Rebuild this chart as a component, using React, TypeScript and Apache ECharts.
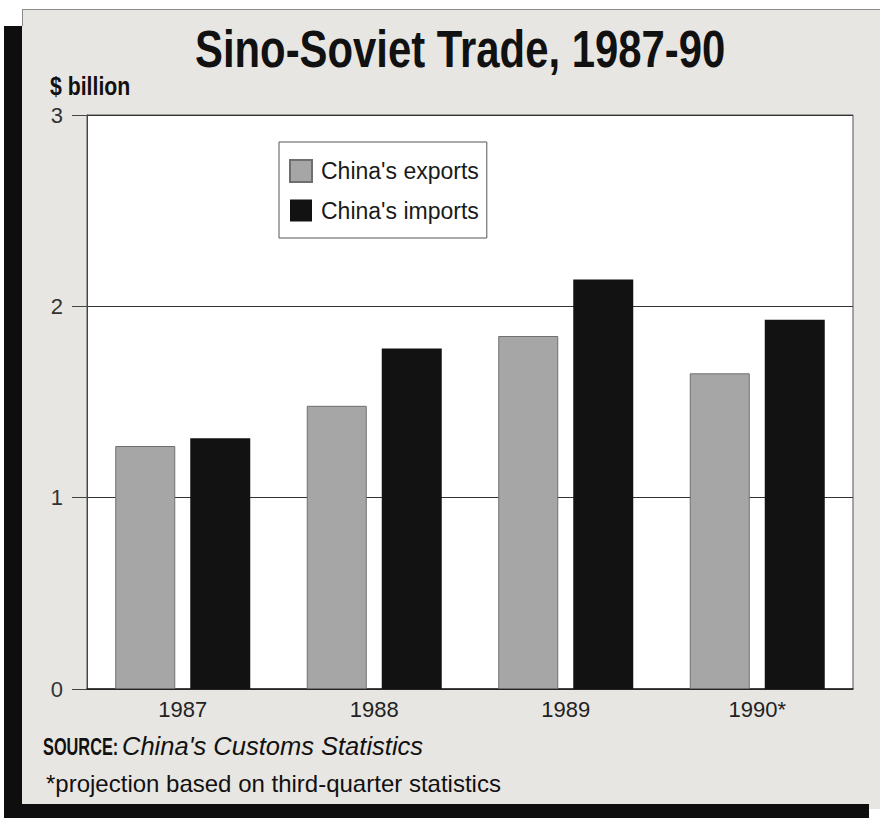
import React, { useEffect, useRef } from "react";
import * as echarts from "echarts";

const years = ["1987", "1988", "1989", "1990*"];
const exportsVals = [1.27, 1.48, 1.845, 1.65];
const importsVals = [1.31, 1.78, 2.14, 1.93];
const yTicks = [0, 1, 2, 3];

const SANS = "Liberation Sans, Arial, sans-serif";

export default function App() {
  const ref = useRef<HTMLDivElement>(null);
  useEffect(() => {
    if (!ref.current) return;
    const chart = echarts.init(ref.current, null, { renderer: "svg" });
    chart.setOption({
      animation: false,
      backgroundColor: "#e8e6e2",
      legend: {
        orient: "vertical",
        left: 279,
        top: 142,
        padding: [17, 8, 16, 10],
        itemWidth: 22,
        itemHeight: 22,
        itemGap: 16,
        icon: "rect",
        backgroundColor: "#ffffff",
        borderColor: "#555",
        borderWidth: 1,
        borderRadius: 0,
        data: ["China's exports", "China's imports"],
        textStyle: { fontFamily: SANS, fontSize: 23, color: "#1a1a1a", padding: [0, 0, 0, 4] },
      },
      grid: {
        left: 87,
        top: 115,
        right: 27,
        bottom: 129,
        show: true,
        backgroundColor: "#ffffff",
        borderColor: "#555",
        borderWidth: 1,
      },
      xAxis: {
        type: "category",
        data: years,
        axisLine: { lineStyle: { color: "#222", width: 1.5 } },
        axisTick: { show: false },
        axisLabel: { fontFamily: SANS, fontSize: 22, color: "#222", margin: 9 },
      },
      yAxis: {
        type: "value",
        min: yTicks[0],
        max: yTicks[yTicks.length - 1],
        interval: 1,
        axisLine: { show: true, lineStyle: { color: "#444", width: 1 } },
        axisTick: { show: true, length: 15, lineStyle: { color: "#444" } },
        splitLine: { lineStyle: { color: "#333", width: 1 } },
        axisLabel: { fontFamily: SANS, fontSize: 22, color: "#333", margin: 24 },
      },
      series: [
        {
          name: "China's exports",
          type: "bar",
          data: exportsVals,
          barWidth: 60,
          barGap: "25%",
          itemStyle: { color: "#a6a6a6", borderColor: "#6f6f6f", borderWidth: 1 },
        },
        {
          name: "China's imports",
          type: "bar",
          data: importsVals,
          barWidth: 60,
          barGap: "25%",
          itemStyle: { color: "#121212" },
        },
      ],
      graphic: [
        { type: "rect", shape: { x: 0, y: 0, width: 880, height: 9 }, style: { fill: "#ffffff" } },
        { type: "rect", shape: { x: 0, y: 0, width: 22, height: 26 }, style: { fill: "#ffffff" } },
        { type: "rect", shape: { x: 0, y: 0, width: 4, height: 818 }, style: { fill: "#ffffff" } },
        { type: "line", shape: { x1: 22, y1: 9.5, x2: 880, y2: 9.5 }, style: { stroke: "#8a8a8a", lineWidth: 1 } },
        { type: "line", shape: { x1: 22.5, y1: 9, x2: 22.5, y2: 26 }, style: { stroke: "#8a8a8a", lineWidth: 1 } },
        { type: "rect", shape: { x: 4, y: 26, width: 18, height: 792 }, style: { fill: "#0e0e0e" } },
        { type: "rect", shape: { x: 4, y: 804, width: 865, height: 14 }, style: { fill: "#0e0e0e" } },
        { type: "rect", shape: { x: 869, y: 809, width: 11, height: 9 }, style: { fill: "#ffffff" } },
        {
          type: "text",
          x: 195,
          y: 49,
          scaleX: 0.805,
          style: {
            text: "Sino-Soviet Trade, 1987-90",
            fontFamily: SANS,
            fontWeight: "bold",
            fontSize: 52,
            fill: "#111",
            textAlign: "left",
            textVerticalAlign: "middle",
            verticalAlign: "middle",
          },
        },
        {
          type: "text",
          x: 50,
          y: 86,
          scaleX: 0.85,
          style: {
            text: "$ billion",
            fontFamily: SANS,
            fontWeight: "bold",
            fontSize: 25,
            fill: "#111",
            textAlign: "left",
            verticalAlign: "middle",
          },
        },
        {
          type: "text",
          x: 43,
          y: 746,
          scaleX: 0.68,
          style: {
            text: "SOURCE:",
            fontFamily: SANS,
            fontWeight: "bold",
            fontSize: 24,
            fill: "#111",
            textAlign: "left",
            verticalAlign: "middle",
          },
        },
        {
          type: "text",
          x: 122,
          y: 746,
          style: {
            text: "China's Customs Statistics",
            fontFamily: SANS,
            fontStyle: "italic",
            fontSize: 25.5,
            fill: "#111",
            textAlign: "left",
            verticalAlign: "middle",
          },
        },
        {
          type: "text",
          x: 46,
          y: 783,
          style: {
            text: "*projection based on third-quarter statistics",
            fontFamily: SANS,
            fontSize: 24,
            fill: "#111",
            textAlign: "left",
            verticalAlign: "middle",
          },
        },
      ],
    });
    return () => chart.dispose();
  }, []);
  return (
    <div
      ref={ref}
      style={{ position: "absolute", left: 0, top: 0, width: 880, height: 818 }}
    />
  );
}
